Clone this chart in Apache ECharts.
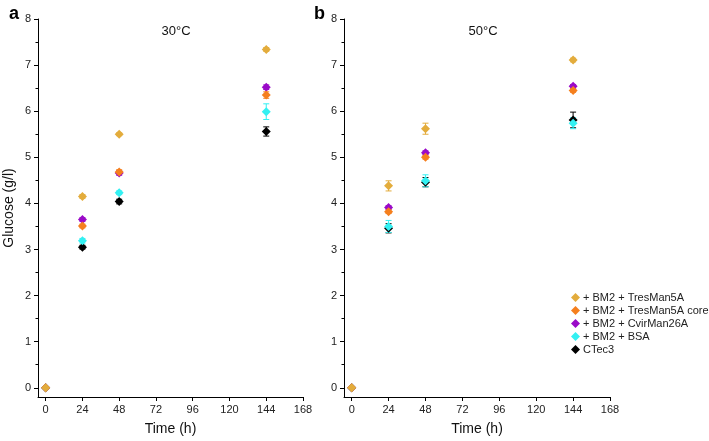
<!DOCTYPE html>
<html><head><meta charset="utf-8">
<script src="https://cdn.jsdelivr.net/npm/echarts@6/dist/echarts.min.js"></script>
<style>html,body{margin:0;padding:0;background:#fff}#c{width:709px;height:441px}</style>
</head><body><div id="c"></div>
<script>
const times = [0, 24, 48, 144];
const seriesNames = ['+ BM2 + TresMan5A', '+ BM2 + TresMan5A core', '+ BM2 + CvirMan26A', '+ BM2 + BSA', 'CTec3'];
const colors = ['#E3AC3C', '#F57F1E', '#9A0AC8', '#33F0F2', '#000000'];
// Panel a (30°C)
const a_TresMan5A     = [0, 4.15, 5.50, 7.34];
const a_TresMan5Acore = [0, 3.51, 4.68, 6.35];
const a_CvirMan26A    = [0, 3.65, 4.66, 6.52];
const a_BSA           = [0, 3.19, 4.23, 5.99];
const a_CTec3         = [0, 3.05, 4.04, 5.56];
const a_err = [[0,0.04,0.03,0.04],[0,0.04,0.05,0.07],[0,0.04,0.05,0.05],[0,0.05,0.04,0.17],[0,0.04,0.05,0.10]];
// Panel b (50°C)
const b_TresMan5A     = [0, 4.38, 5.62, 7.11];
const b_TresMan5Acore = [0, 3.82, 5.00, 6.45];
const b_CvirMan26A    = [0, 3.91, 5.10, 6.54];
const b_BSA           = [0, 3.50, 4.49, 5.74];
const b_CTec3         = [0, 3.46, 4.46, 5.81];
const b_err = [[0,0.11,0.12,0.04],[0,0.04,0.04,0.04],[0,0.04,0.04,0.04],[0,0.13,0.13,0.12],[0,0.10,0.10,0.17]];
const xTicks = [0, 24, 48, 72, 96, 120, 144, 168];
const yTicks = [0, 1, 2, 3, 4, 5, 6, 7, 8];
const yMinor = [0.5, 1.5, 2.5, 3.5, 4.5, 5.5, 6.5, 7.5];

const aVals = [a_TresMan5A, a_TresMan5Acore, a_CvirMan26A, a_BSA, a_CTec3];
const bVals = [b_TresMan5A, b_TresMan5Acore, b_CvirMan26A, b_BSA, b_CTec3];

const font = 'Liberation Sans, Arial, sans-serif';
const grids = [
  {left: 38, width: 265, top: 19, height: 380},
  {left: 344, width: 266, top: 19, height: 380}
];
const xAxes = [], yAxes = [];
[0,1].forEach(g => {
  xAxes.push({
    type: 'value', gridIndex: g, min: -5, max: 168,
    name: 'Time (h)', nameLocation: 'middle', nameGap: 25,
    nameTextStyle: {fontFamily: font, fontSize: 14, color: '#111'},
    axisLine: {onZero: false, lineStyle: {color: '#000', width: 1}},
    axisTick: {show: true, length: 4, customValues: xTicks, lineStyle: {color: '#000'}},
    axisLabel: {customValues: xTicks, fontFamily: font, fontSize: 11, color: '#222', margin: 7},
    splitLine: {show: false}
  });
  yAxes.push({
    type: 'value', gridIndex: g, min: -0.2, max: 8,
    name: g === 0 ? 'Glucose (g/l)' : '', nameLocation: 'middle', nameGap: 22,
    nameTextStyle: {fontFamily: font, fontSize: 14, color: '#111'},
    axisLine: {show: true, onZero: false, lineStyle: {color: '#000', width: 1}},
    axisTick: {show: true, length: 4, customValues: yTicks, lineStyle: {color: '#000'}},
    axisLabel: {customValues: yTicks, fontFamily: font, fontSize: 11, color: '#222', margin: 7},
    splitLine: {show: false}
  });
});
// minor tick axes
[0,1].forEach(g => {
  yAxes.push({
    type: 'value', gridIndex: g, min: -0.2, max: 8, position: 'left',
    axisLine: {show: false, onZero: false},
    axisTick: {show: true, length: 2.5, customValues: yMinor, lineStyle: {color: '#000'}},
    axisLabel: {show: false},
    splitLine: {show: false}
  });
});

function errSeries(vals, errs, g, idx) {
  const data = vals.map((v, i) => [times[i], v, errs[i]]).filter(d => d[2] > 0);
  return {
    type: 'custom', xAxisIndex: g, yAxisIndex: g, name: seriesNames[idx],
    silent: true, z: 2,
    renderItem: function (params, api) {
      const x = api.value(0), y = api.value(1), e = api.value(2);
      const hi = api.coord([x, y + e]), lo = api.coord([x, y - e]);
      const w = 3;
      const st = {stroke: colors[idx], lineWidth: 1};
      return {type: 'group', children: [
        {type: 'line', shape: {x1: hi[0], y1: hi[1], x2: lo[0], y2: lo[1]}, style: st},
        {type: 'line', shape: {x1: hi[0]-w, y1: hi[1], x2: hi[0]+w, y2: hi[1]}, style: st},
        {type: 'line', shape: {x1: lo[0]-w, y1: lo[1], x2: lo[0]+w, y2: lo[1]}, style: st}
      ]};
    },
    data: data
  };
}

// draw order: CTec3, BSA, CvirMan26A, core, TresMan5A (top)
const order = [4, 3, 2, 1, 0];
const series = [];
[[aVals, a_err], [bVals, b_err]].forEach(([vals, errs], g) => {
  order.forEach((idx, k) => {
    series.push(errSeries(vals[idx], errs[idx], g, idx));
    series.push({
      type: 'scatter', name: seriesNames[idx], xAxisIndex: g, yAxisIndex: g,
      symbol: 'diamond', symbolSize: 9, z: 3 + k,
      itemStyle: {color: colors[idx], opacity: 1},
      data: vals[idx].map((v, i) => [times[i], v])
    });
  });
});

const chart = echarts.init(document.getElementById('c'), null, {renderer: 'canvas'});
chart.setOption({
  animation: false,
  backgroundColor: '#fff',
  color: colors,
  grid: grids,
  xAxis: xAxes,
  yAxis: yAxes,
  title: [
    {text: 'a', left: 4, top: 0, textStyle: {fontFamily: font, fontSize: 18, fontWeight: 'bold', color: '#000'}},
    {text: 'b', left: 309, top: 0, textStyle: {fontFamily: font, fontSize: 18, fontWeight: 'bold', color: '#000'}},
    {text: '30°C', left: 171, top: 20, textAlign: 'center', textStyle: {fontFamily: font, fontSize: 13, fontWeight: 'normal', color: '#111'}},
    {text: '50°C', left: 478, top: 20, textAlign: 'center', textStyle: {fontFamily: font, fontSize: 13, fontWeight: 'normal', color: '#111'}}
  ],
  legend: {
    orient: 'vertical', left: 566, top: 287,
    data: seriesNames.map((n, i) => ({name: n, icon: 'diamond', itemStyle: {color: colors[i]}})),
    itemWidth: 9, itemHeight: 9, itemGap: 2,
    textStyle: {fontFamily: font, fontSize: 11, color: '#222', padding: [0,0,0,-2]},
    selectedMode: false
  },
  series: series
});
</script></body></html>
